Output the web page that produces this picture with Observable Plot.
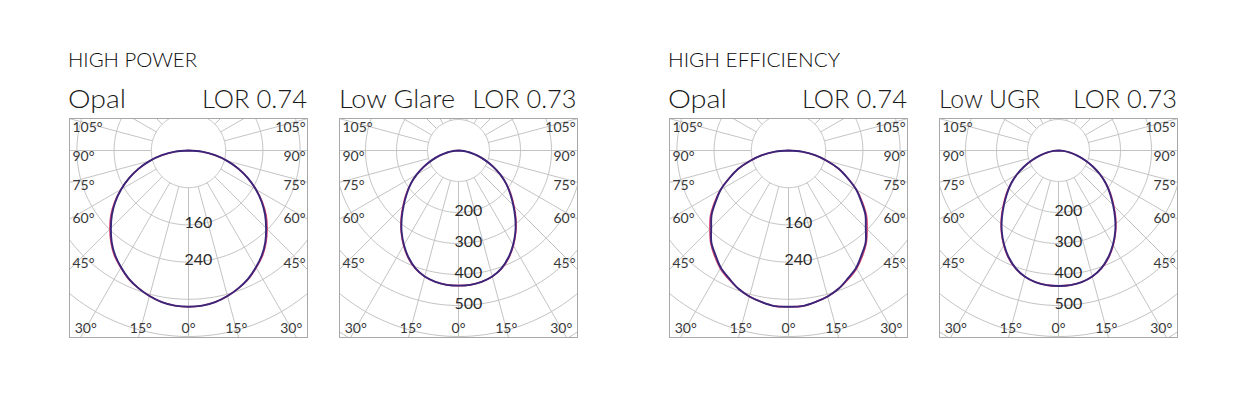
<!DOCTYPE html>
<html>
<head>
<meta charset="utf-8">
<script src="https://cdn.jsdelivr.net/npm/d3@7"></script>
<script src="https://cdn.jsdelivr.net/npm/@observablehq/plot@0.6"></script>
<style>
  html, body { margin: 0; padding: 0; background: #fff; }
  body { width: 1235px; height: 399px; position: relative; overflow: hidden; font-family: Lato, "Open Sans", sans-serif; }
  .panel { position: absolute; }
  #heads { position: absolute; left: 0; top: 0; }
</style>
</head>
<body>
<svg id="heads" width="1235" height="120"></svg>
<script>
// ---------- data ----------
const angles = [0,5,10,15,20,25,30,35,40,45,50,55,60,65,70,75,80,85,90];

// High power, Opal (cd/klm)
const hpOpalC90 = [336,335,331,324,315,304,290,275,257,236,215,192,167,141,114,86,58,29,0];
const hpOpalC0  = [336,335,331,324,315,305,291,277,259,239,218,194,168,141,114,86,58,29,0];
// High power, Low Glare
const hpGlareC90 = [436,435,430,421,405,381,352,320,285,250,218,188,156,123,91,62,37,17,0];
const hpGlareC0  = [436,435,430,421,406,383,354,322,288,253,221,189,156,123,91,62,37,17,0];
// High efficiency, Opal
const heOpalC90 = [336,336,331,325,316,303,291,274,258,235,216,191,168,140,115,85,58,29,0];
const heOpalC0  = [336,336,331,325,316,305,293,277,260,239,219,194,169,141,115,85,58,29,0];
// High efficiency, Low UGR
const heUgrC90 = [437,436,431,421,404,380,351,319,284,249,217,187,155,122,90,61,36,16,0];
const heUgrC0  = [437,436,431,421,405,382,353,321,287,252,220,188,155,122,90,61,36,16,0];

const ringsOpal = [80,160,240,320,400,480];
const ringLabelsOpal = [160,240];
const ringsGlare = [100,200,300,400,500,600,700];
const ringLabelsGlare = [200,300,400,500];

const sideDegrees = [105,90,75,60,45];
const bottomDegrees = [-30,-15,0,15,30];
const spokeAngles = [-165,-150,-135,-120,-105,-90,-75,-60,-45,-30,-15,0,15,30,45,60,75,90,105,120,135,150,165,180];

const groupTitles = ["HIGH POWER", "HIGH EFFICIENCY"];
const panelNames = ["Opal", "Low Glare", "Opal", "Low UGR"];
const panelLOR = ["LOR 0.74", "LOR 0.73", "LOR 0.74", "LOR 0.73"];

// ---------- layout ----------
const panels = [
  {left: 68,  k: 0.465, c90: hpOpalC90,  c0: hpOpalC0,  rings: ringsOpal,  labels: ringLabelsOpal},
  {left: 338, k: 0.31,  c90: hpGlareC90, c0: hpGlareC0, rings: ringsGlare, labels: ringLabelsGlare},
  {left: 668, k: 0.465, c90: heOpalC90,  c0: heOpalC0,  rings: ringsOpal,  labels: ringLabelsOpal},
  {left: 938, k: 0.31,  c90: heUgrC90,   c0: heUgrC0,   rings: ringsGlare, labels: ringLabelsGlare}
];
const W = 240, H = 221, M = 1;
const halfW = 119, above = 32, below = 187;
const rad = d => d * Math.PI / 180;
const FONT = "Lato, 'Open Sans', sans-serif";

function curve(vals) {
  const pts = [];
  for (let i = angles.length - 1; i >= 0; i--) pts.push({x: -vals[i] * Math.sin(rad(angles[i])), y: -vals[i] * Math.cos(rad(angles[i]))});
  for (let i = 1; i < angles.length; i++) pts.push({x: vals[i] * Math.sin(rad(angles[i])), y: -vals[i] * Math.cos(rad(angles[i]))});
  return pts;
}

panels.forEach((p) => {
  const k = p.k;
  const ringPts = [];
  p.rings.forEach(R => { for (let t = 0; t <= 360; t += 2) ringPts.push({r: R, x: R * Math.sin(rad(t)), y: R * Math.cos(rad(t))}); });
  const r0 = p.rings[0], r1 = 300 / k;
  const spokes = spokeAngles.map(a => ({x1: r0 * Math.sin(rad(a)), y1: -r0 * Math.cos(rad(a)), x2: r1 * Math.sin(rad(a)), y2: -r1 * Math.cos(rad(a))}));
  const D = 107 / k;
  const leftLab = sideDegrees.map(a => ({t: a + "°", x: -halfW / k, y: -D * Math.cos(rad(a)) / Math.sin(rad(a))}));
  const rightLab = sideDegrees.map(a => ({t: a + "°", x: halfW / k, y: -D * Math.cos(rad(a)) / Math.sin(rad(a))}));
  const B = 178 / k;
  const botLab = bottomDegrees.map(a => ({t: Math.abs(a) + "°", x: B * Math.tan(rad(a)), y: -B}));
  const ringLab = p.labels.map(v => ({t: String(v), x: 0, y: -v}));

  const chart = Plot.plot({
    width: W, height: H,
    marginTop: M, marginRight: M, marginBottom: M, marginLeft: M,
    x: {domain: [-halfW / k, halfW / k], axis: null},
    y: {domain: [-below / k, above / k], axis: null},
    style: {fontFamily: FONT, background: "transparent", overflow: "visible"},
    marks: [
      Plot.line(ringPts, {x: "x", y: "y", z: "r", stroke: "#c4c4c4", strokeWidth: 1, clip: true}),
      Plot.link(spokes, {x1: "x1", y1: "y1", x2: "x2", y2: "y2", stroke: "#c4c4c4", strokeWidth: 1, clip: true}),
      Plot.text(ringLab, {x: "x", y: "y", text: "t", textAnchor: "start", dx: -4, dy: -2, fontSize: 16, fontWeight: 400, fill: "#2a2a2a"}),
      Plot.line(curve(p.c0), {x: "x", y: "y", stroke: "#d8436e", strokeWidth: 1.6, curve: "catmull-rom", clip: true}),
      Plot.line(curve(p.c90), {x: "x", y: "y", stroke: "#39267a", strokeWidth: 1.9, curve: "catmull-rom", clip: true}),
      Plot.text(leftLab, {x: "x", y: "y", text: "t", textAnchor: "start", dx: 3, dy: 6, fontSize: 14, fontWeight: 400, fill: "#383838"}),
      Plot.text(rightLab, {x: "x", y: "y", text: "t", textAnchor: "end", dx: -2, dy: 6, fontSize: 14, fontWeight: 400, fill: "#383838"}),
      Plot.text(botLab, {x: "x", y: "y", text: "t", textAnchor: "middle", fontSize: 14, fontWeight: 400, fill: "#383838"}),
      Plot.frame({stroke: "#a8a8a8", strokeWidth: 1})
    ]
  });
  chart.classList.add("panel");
  chart.style.left = p.left + "px";
  chart.style.top = "117px";
  document.body.appendChild(chart);
});

// ---------- headers ----------
const svg = document.getElementById("heads");
const NS = "http://www.w3.org/2000/svg";
function addText(str, x, y, size, weight, len, color) {
  const t = document.createElementNS(NS, "text");
  t.setAttribute("x", x); t.setAttribute("y", y);
  t.setAttribute("font-size", size); t.setAttribute("font-weight", weight);
  t.setAttribute("font-family", FONT); t.setAttribute("fill", color);
  t.setAttribute("textLength", len); t.setAttribute("lengthAdjust", "spacingAndGlyphs");
  t.textContent = str;
  svg.appendChild(t);
}
const groupX = [68, 668], groupLen = [129, 172];
groupTitles.forEach((g, i) => addText(g, groupX[i], 66.5, 20, 300, groupLen[i], "#0a0a0a"));
const nameX = [68, 339, 668, 939], nameLen = [58, 116, 59, 101];
const lorX = [202, 472.5, 802, 1073], lorLen = [105, 104, 105, 104];
panelNames.forEach((n, i) => addText(n, nameX[i], 108.3, 25, 300, nameLen[i], "#1a1a1a"));
panelLOR.forEach((n, i) => addText(n, lorX[i], 108.3, 25, 300, lorLen[i], "#1a1a1a"));
</script>
</body>
</html>
